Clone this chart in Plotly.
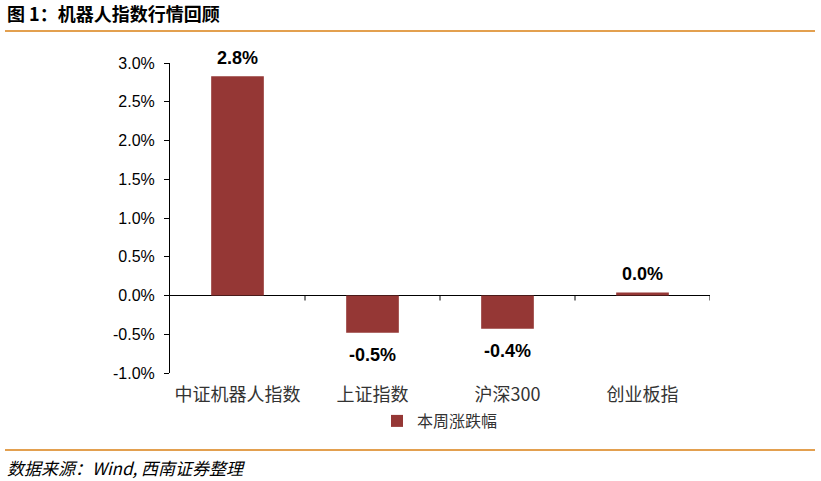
import plotly.graph_objects as go

categories = ["中证机器人指数", "上证指数", "沪深300", "创业板指"]
weekly_change = [0.0283, -0.0048, -0.0043, 0.0004]
series_name = "本周涨跌幅"
y_ticks = [-0.01, -0.005, 0.0, 0.005, 0.01, 0.015, 0.02, 0.025, 0.03]
y_tick_labels = ["-1.0%", "-0.5%", "0.0%", "0.5%", "1.0%", "1.5%", "2.0%", "2.5%", "3.0%"]
title_text = "图 1：机器人指数行情回顾"
source_text = "数据来源：Wind, 西南证券整理"

BAR = "#953735"
ORANGE = "#E3A04F"
W, H = 821, 481
ML, MR, MT, MB = 170, 111, 63, 108
PW, PH = W - ML - MR, H - MT - MB

def px_x(x):
    return (x - ML) / PW

def px_y(y):
    return (H - MB - y) / PH

fig = go.Figure()
fig.add_trace(go.Bar(
    x=categories, y=weekly_change, name=series_name,
    marker=dict(color=BAR, line=dict(width=0)),
    showlegend=True, hoverinfo="x+y",
))

annotations = []
for c, v in zip(categories, weekly_change):
    label = f"{v*100:.1f}%"
    label = label.replace("−", "-")
    annotations.append(dict(
        x=c, y=v, xref="x", yref="y", text="<b>" + label + "</b>", showarrow=False,
        yanchor="bottom" if v >= 0 else "top", yshift=6 if v >= 0 else -10,
        font=dict(family="Liberation Sans, Arial", size=18, color="#000000")))

shapes = []
for i in range(len(categories)):
    shapes.append(dict(type="line", xref="x", yref="y", x0=i + 0.5, x1=i + 0.5,
                       ysizemode="pixel", yanchor=0, y0=0, y1=-5,
                       line=dict(color="#000000", width=1)))
shapes.append(dict(type="line", xref="paper", yref="paper", x0=px_x(5), x1=px_x(815),
                   y0=px_y(31), y1=px_y(31), line=dict(color=ORANGE, width=2)))
shapes.append(dict(type="line", xref="paper", yref="paper", x0=px_x(5), x1=px_x(815),
                   y0=px_y(450), y1=px_y(450), line=dict(color=ORANGE, width=2)))

annotations += [
    dict(text="<b>" + title_text + "</b>", xref="paper", yref="paper",
         x=px_x(5), y=px_y(13), xanchor="left", yanchor="middle", showarrow=False,
         font=dict(family="Noto Sans CJK SC", size=18, color="#000000")),
    dict(text="<i>" + source_text + "</i>", xref="paper", yref="paper",
         x=px_x(5), y=px_y(467), xanchor="left", yanchor="middle", showarrow=False,
         font=dict(family="Noto Sans CJK SC", size=17, color="#000000")),
]

fig.update_layout(
    width=W, height=H,
    margin=dict(l=ML, r=MR, t=MT, b=MB, autoexpand=False),
    paper_bgcolor="white", plot_bgcolor="white",
    bargap=0.61,
    font=dict(family="Liberation Sans, Arial", size=14, color="#000000"),
    xaxis=dict(
        type="category", range=[-0.5, 3.5], showline=False, ticks="",
        showgrid=False, zeroline=False,
        tickfont=dict(family="Noto Sans CJK SC", size=18, color="#333333"),
        ticklabelstandoff=9,
    ),
    yaxis=dict(
        range=[-0.01, 0.03], tickvals=y_ticks, ticktext=y_tick_labels,
        showline=True, linecolor="#000000", linewidth=1,
        ticks="outside", ticklen=5, tickcolor="#000000",
        showgrid=False, zeroline=True, zerolinecolor="#000000", zerolinewidth=1,
        tickfont=dict(family="Liberation Sans, Arial", size=16, color="#000000"),
        ticklabelstandoff=6,
    ),
    legend=dict(orientation="h", x=0.5, xanchor="center", y=px_y(421), yanchor="middle",
                font=dict(family="Noto Sans CJK SC", size=16, color="#333333"),
                itemwidth=30),
    shapes=shapes,
    annotations=annotations,
)

fig.write_html("out.html", config={"displayModeBar": False},
               post_script="document.body.style.margin='0';")
